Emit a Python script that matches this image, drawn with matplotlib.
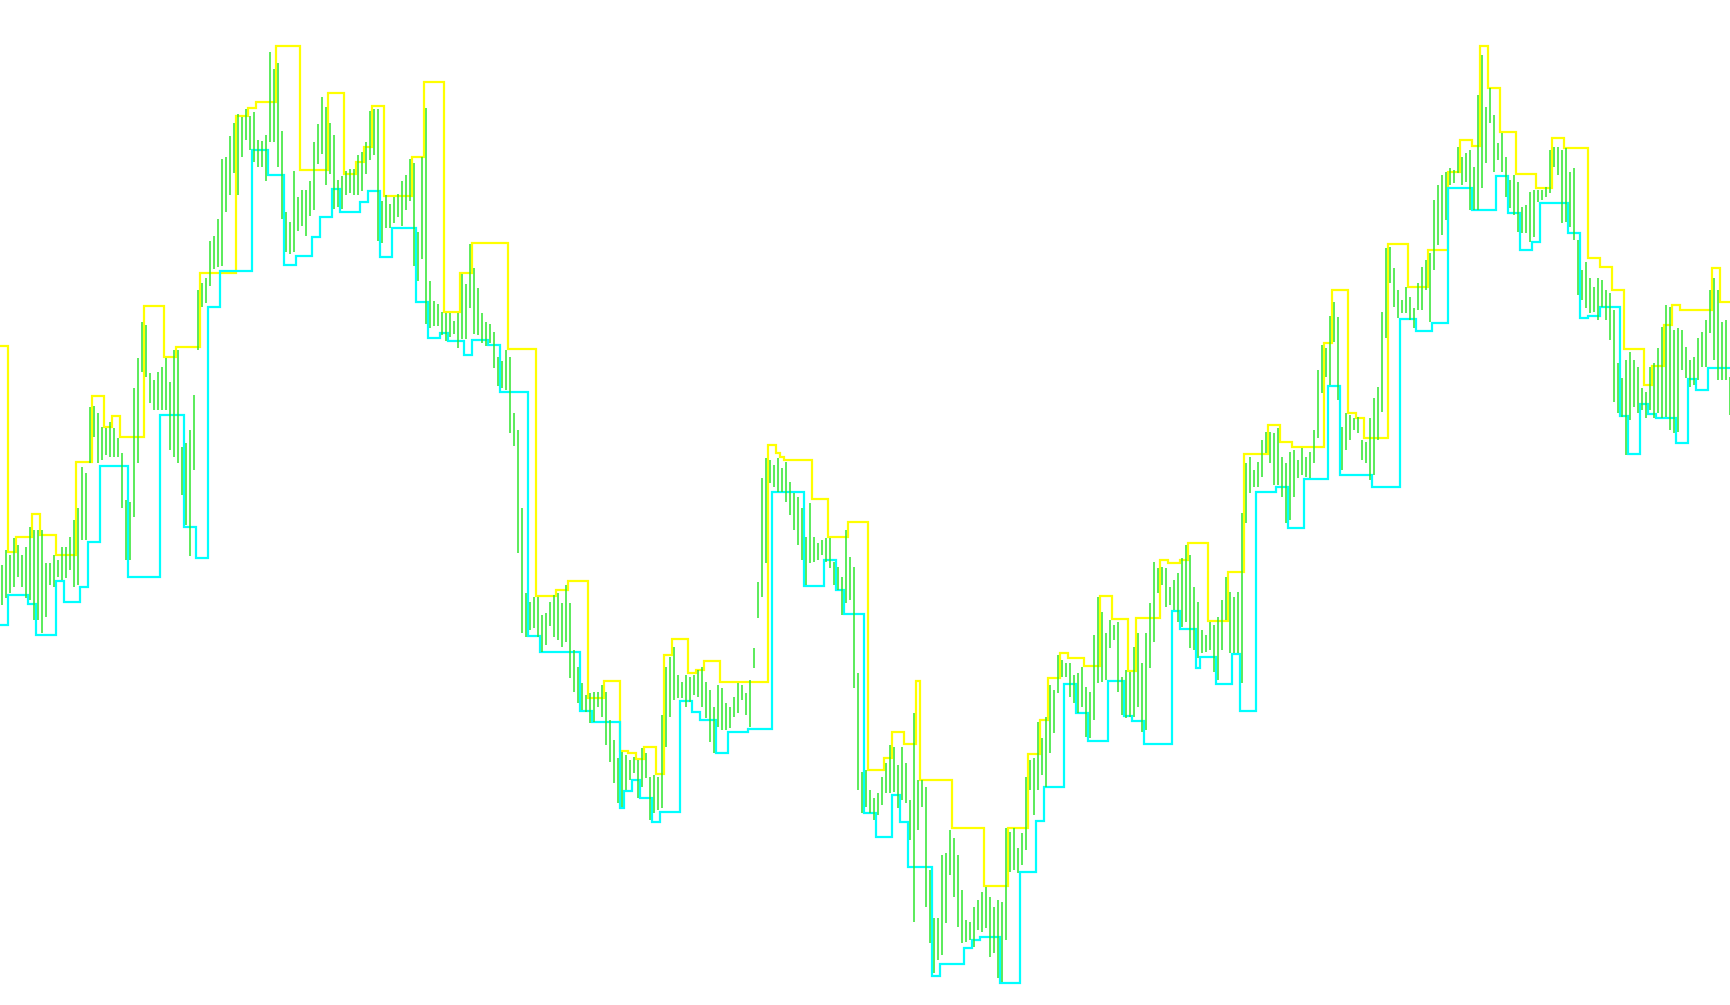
import numpy as np
import matplotlib
matplotlib.use("Agg")
import matplotlib.pyplot as plt

# ---- bar data (price points), one bar per index ----
bar_high = [
    435,450,445,462,455,445,453,473,470,470,
    470,437,437,445,440,453,453,463,480,492,
    533,527,593,594,587,573,572,578,572,562,
    547,500,498,612,642,678,675,627,620,628,
    633,642,618,650,650,553,557,570,605,710,
    717,722,759,764,781,841,843,864,877,886,
    883,891,884,888,860,859,865,948,931,937,
    869,788,778,829,803,810,810,819,858,876,
    903,893,877,865,820,824,829,831,831,845,
    848,858,889,891,891,799,805,796,803,806,
    819,825,841,837,768,843,892,719,699,696,
    688,687,687,679,687,726,716,756,732,712,
    687,678,676,668,643,639,650,643,587,570,
    492,407,398,403,403,385,387,398,405,407,
    397,415,397,350,333,317,305,307,308,308,
    315,308,280,260,242,248,245,240,243,240,
    252,247,223,225,223,285,333,343,353,325,
    318,325,323,325,330,333,318,310,293,315,
    312,297,293,303,317,315,307,320,352,418,
    522,542,540,535,542,532,538,518,507,503,
    492,463,497,463,457,460,462,462,438,433,
    423,470,443,433,327,228,230,210,202,207,
    223,237,255,253,235,253,237,200,287,220,
    220,213,130,82,82,145,147,170,162,145,
    110,80,78,93,100,108,113,103,93,100,
    98,172,168,172,152,167,223,240,242,278,
    262,283,315,310,345,340,337,337,325,327,
    333,313,308,365,403,388,367,380,375,378,
    323,330,328,353,367,337,367,397,438,432,
    433,432,413,420,427,442,455,445,413,398,
    370,365,378,375,383,400,423,408,403,408,
    487,537,543,530,538,560,568,568,567,572,
    543,537,548,550,540,552,543,548,570,630,
    655,652,684,698,683,573,587,585,582,583,
    560,558,582,602,613,688,752,753,732,710,
    700,713,703,692,717,733,740,747,800,815,
    825,828,832,830,853,843,847,850,833,905,
    945,893,912,885,857,867,843,820,825,818,
    793,795,808,810,810,810,813,850,853,853,
    850,852,828,832,760,730,738,722,713,722,
    720,710,707,690,637,622,640,648,640,633,
    612,608,633,637,652,673,695,693,670,672,
    670,653,640,643,662,668,680,710,722,710,
    678,680,623,
]

bar_low = [
    395,402,407,413,423,413,402,400,380,380,
    367,383,415,413,423,420,422,430,413,415,
    460,460,537,563,537,540,545,543,543,543,
    492,440,440,483,537,628,623,597,590,590,
    590,590,550,543,537,505,475,444,530,650,
    693,697,714,731,733,734,788,805,827,805,
    843,860,850,838,833,833,819,858,858,833,
    781,748,746,748,769,774,764,784,790,836,
    846,815,826,791,793,791,805,807,805,805,
    809,826,840,845,759,757,772,772,777,783,
    774,790,799,734,719,741,676,672,674,674,
    665,659,663,666,652,661,661,692,666,665,
    657,654,657,632,614,612,610,567,554,447,
    367,363,370,372,363,348,355,374,363,360,
    353,358,322,308,297,290,288,277,278,293,
    283,255,238,217,197,193,210,220,227,202,
    213,222,180,187,190,192,253,283,300,302,
    302,293,298,305,303,293,282,258,247,273,
    270,270,272,283,287,300,285,273,332,382,
    403,437,517,513,508,508,498,485,470,455,
    440,415,437,438,440,445,438,432,415,410,
    385,397,400,312,210,187,193,187,180,185,
    195,207,207,208,192,200,197,160,78,170,
    193,93,57,27,40,45,77,125,103,73,
    57,58,60,53,70,68,72,43,47,22,
    18,60,128,130,127,135,150,210,185,210,
    225,213,247,267,307,323,323,303,297,287,
    293,263,262,280,317,318,320,352,360,308,
    285,282,283,283,293,268,270,332,358,407,
    415,393,395,390,378,373,378,352,350,342,
    347,348,350,328,320,350,380,347,347,347,
    317,477,507,513,513,523,547,537,515,515,
    503,477,480,503,522,525,523,522,537,562,
    607,623,615,658,600,530,550,560,570,567,
    540,537,520,525,560,588,662,717,693,682,
    687,687,680,672,690,690,710,678,730,755,
    765,780,815,817,827,815,818,790,790,790,
    812,837,877,828,840,828,803,792,785,768,
    767,767,758,763,798,800,803,807,833,825,
    777,778,773,760,705,700,692,687,688,680,
    693,680,660,598,587,583,545,580,593,587,
    590,582,590,582,587,582,583,570,567,568,
    630,622,613,615,620,633,633,667,640,620,
    620,620,585,
]

# ---- upper channel (yellow): bar index where each level starts, level ----
upper_start = [0, 2, 4, 8, 10, 14, 19, 23, 26, 28, 30, 36, 41, 44, 50, 59, 62, 64, 69, 75,
               82, 86, 89, 91, 93, 96, 103, 106, 111, 115, 118, 127, 134, 139, 142, 147, 151,
               155, 157, 159, 161, 164, 166, 168, 172, 174, 176, 180, 192, 194, 195, 196, 203,
               207, 212, 217, 221, 223, 226, 229, 230, 238, 246, 252, 257, 260, 262, 265, 267,
               271, 275, 278, 282, 284, 290, 292, 295, 297, 302, 307, 311, 317, 320, 323, 331,
               333, 337, 339, 341, 347, 352, 357, 362, 365, 368, 370, 372, 375, 379, 384, 388,
               391, 397, 400, 403, 406, 411, 413, 416, 418, 420, 428, 430]
upper_level = [654, 448, 463, 486, 465, 445, 538, 604, 573, 584, 563, 694, 643, 653, 727, 884,
               892, 898, 954, 830, 907, 826, 838, 853, 894, 804, 843, 918, 688, 727, 757, 651,
               404, 410, 419, 302, 319, 249, 247, 241, 253, 226, 345, 361, 327, 330, 339, 318,
               555, 547, 543, 540, 501, 463, 478, 230, 242, 268, 256, 319, 220, 172, 114, 172,
               246, 280, 322, 347, 342, 334, 404, 381, 329, 382, 440, 437, 440, 457, 379, 428,
               546, 575, 558, 553, 657, 710, 587, 582, 562, 756, 713, 750, 828, 860, 854, 954,
               912, 868, 826, 812, 862, 852, 742, 733, 710, 651, 615, 634, 675, 695, 690, 732,
               698]

# ---- lower channel (cyan) ----
lower_start = [0, 2, 7, 9, 14, 16, 20, 22, 25, 32, 40, 46, 49, 52, 55, 63, 67, 71, 74, 78, 80,
               83, 85, 90, 92, 95, 98, 104, 107, 110, 112, 116, 118, 122, 125, 132, 135, 145,
               148, 155, 156, 158, 160, 163, 165, 170, 173, 175, 179, 182, 187, 193, 201, 206,
               209, 211, 216, 219, 223, 225, 227, 233, 235, 241, 243, 245, 250, 255, 259, 261,
               266, 269, 272, 277, 281, 283, 286, 293, 295, 299, 300, 304, 308, 310, 314, 319,
               322, 326, 332, 335, 343, 350, 354, 358, 362, 368, 374, 377, 380, 383, 385, 392,
               395, 397, 400, 405, 407, 410, 412, 414, 419, 422, 424, 427]
lower_level = [375, 405, 396, 365, 419, 398, 413, 458, 534, 423, 585, 473, 442, 693, 729, 850,
               825, 735, 744, 763, 783, 811, 788, 798, 809, 743, 772, 698, 662, 667, 659, 645,
               660, 655, 608, 364, 348, 289, 278, 192, 209, 220, 202, 178, 188, 299, 288, 280,
               247, 268, 271, 508, 414, 440, 410, 386, 187, 163, 205, 178, 133, 24, 36, 52, 60,
               63, 17, 128, 179, 213, 316, 287, 259, 319, 284, 279, 256, 389, 371, 332, 343,
               316, 346, 289, 508, 513, 472, 521, 614, 525, 513, 681, 669, 677, 812, 790, 824,
               787, 750, 758, 797, 767, 682, 684, 693, 584, 546, 596, 586, 582, 557, 621, 610,
               632]

BAR_COLOR = "#2ee62e"
UPPER_COLOR = "#ffff00"
LOWER_COLOR = "#00ffff"

n = len(bar_high)
idx = np.arange(n)

fig = plt.figure(figsize=(17.30, 10.05), dpi=100, facecolor="white")
ax = fig.add_axes([0, 0, 1, 1])
ax.set_facecolor("white")


def channel(starts, levels):
    xs = np.append(np.asarray(starts, dtype=float) - 0.5, n - 0.5)
    ys = np.append(levels, levels[-1])
    return xs, ys


ux, uy = channel(upper_start, upper_level)
lx, ly = channel(lower_start, lower_level)
ax.step(ux, uy, where="post", color=UPPER_COLOR, lw=1.6, zorder=2, solid_joinstyle="miter")
ax.step(lx, ly, where="post", color=LOWER_COLOR, lw=1.6, zorder=2, solid_joinstyle="miter")
ax.vlines(idx, bar_low, bar_high, color=BAR_COLOR, lw=1.1, zorder=3)

ax.set_xlim(-0.5, n - 1)
ax.set_ylim(-5, 1000)
ax.axis("off")

fig.savefig("out.png", dpi=100, facecolor="white")
